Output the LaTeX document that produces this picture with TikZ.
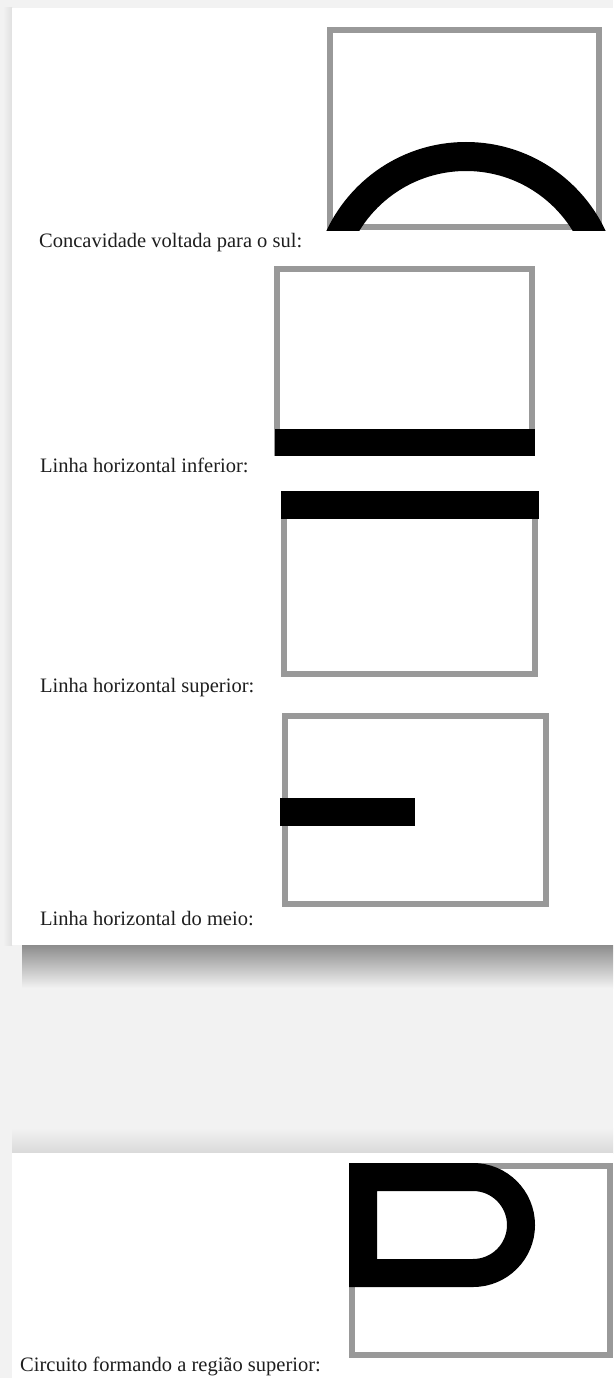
\documentclass[tikz,border=0pt]{standalone}
\usepackage{fontspec}
\setmainfont{Liberation Serif}
\usepackage{xcolor}
\definecolor{fundo}{HTML}{F2F2F2}
\definecolor{moldura}{HTML}{999999}
\definecolor{tinta}{HTML}{1E1E1E}

\begin{document}
\begin{tikzpicture}[x=1pt, y=-1pt,
    quadro/.style={draw=moldura, line width=6pt},
    barra/.style={fill=black},
    traco/.style={draw=black, line width=28pt, line join=miter},
    legenda/.style={font=\fontsize{20.5}{24}\selectfont, text=tinta, anchor=base west, inner sep=0pt}]
  \useasboundingbox (0,0) rectangle (613,1378);

  % Background, panels and shadows
  \fill[fundo] (0,0) rectangle (613,1378);
  \shade[left color=fundo, right color=black!12] (3,8) rectangle (12,945);
  \shade[top color=black!45, bottom color=fundo] (22,945) rectangle (613,988);
  \shade[top color=fundo, bottom color=black!15] (12,1128) rectangle (613,1153);
  \fill[white] (12,8) rectangle (613,945);
  \fill[white] (12,1153) rectangle (613,1378);

  % Concavity facing south
  \draw[quadro] (330,30) rectangle (599,227);
  \begin{scope}
    \clip (300,0) rectangle (613,230);
    \draw[line width=29pt] (466,296) circle (139.5pt);
  \end{scope}
  \node[legenda] (sul) at (39,247) {Concavidade voltada para o sul:};

  % Lower horizontal line
  \draw[quadro] (277,269) rectangle (532,453);
  \fill[barra] (275,429) rectangle (535,456);
  \node[legenda] (inferior) at (40,472) {Linha horizontal inferior:};

  % Upper horizontal line
  \draw[quadro] (284,495) rectangle (535,674);
  \fill[barra] (281,491) rectangle (539,519);
  \node[legenda] (superior) at (40,692) {Linha horizontal superior:};

  % Middle horizontal line
  \draw[quadro] (285,716) rectangle (546,904);
  \fill[barra] (280,798) rectangle (415,826);
  \node[legenda] (meio) at (40,925) {Linha horizontal do meio:};

  % Circuit around the upper region
  \draw[quadro] (352,1166) rectangle (610,1355);
  \draw[traco] (363,1177) -- (363,1273) -- (473,1273)
    arc[start angle=-90, end angle=90, radius=48pt] -- cycle;
  \node[legenda] (circuito) at (20,1371) {Circuito formando a região superior:};
\end{tikzpicture}
\end{document}
